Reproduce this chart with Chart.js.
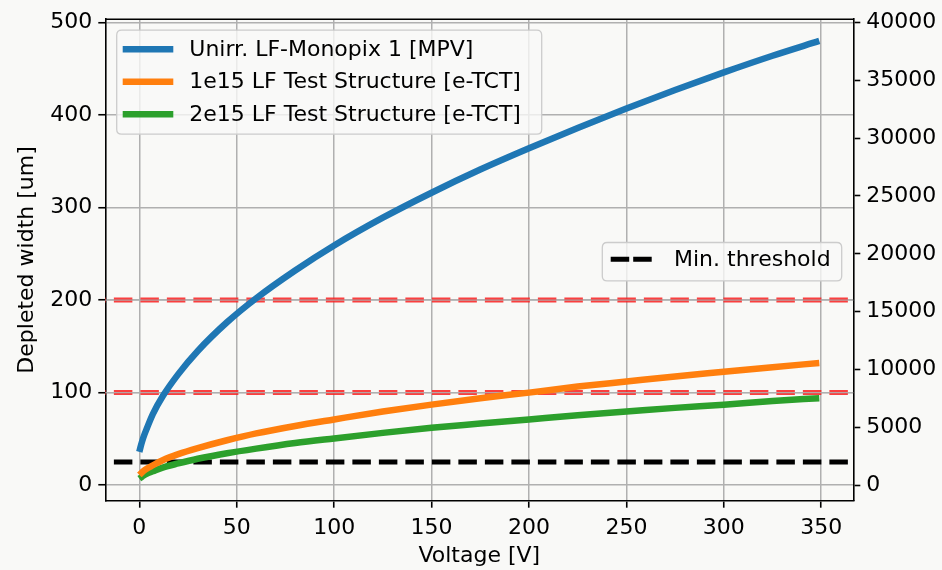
<!DOCTYPE html>
<html><head><meta charset="utf-8">
<script src="https://cdn.jsdelivr.net/npm/chart.js@4/dist/chart.umd.min.js"></script>
<style>html,body{margin:0;padding:0;background:#f9f9f7;} #wrap{width:942px;height:570px;}</style>
</head><body><div id="wrap"><canvas id="c" width="942" height="570"></canvas></div>
<script>
// ---- data ----
const voltages      = [0, 1, 2, 4, 7, 12, 20, 30, 45, 60, 80, 100, 125, 150, 175, 200, 225, 250, 275, 300, 325, 349];
const unirrMonopix  = [36, 44, 51, 62, 77, 96, 120, 145, 176, 202, 232, 259, 289, 316, 341, 364, 386, 407, 427, 446, 464, 480];
const lf1e15        = [11, 13, 15, 18, 21.5, 27, 33.5, 40, 48.5, 56, 64, 71, 79.5, 87, 94, 100, 106.5, 112, 117.5, 122.5, 127.5, 132];
const lf2e15        = [7, 8.5, 10, 12.5, 15, 19, 23.5, 28.5, 34.5, 39.5, 45.5, 50.5, 56.5, 62, 66.5, 71, 75.5, 79.5, 83.5, 87, 91, 94];
const seriesLabels  = ['Unirr. LF-Monopix 1 [MPV]', '1e15 LF Test Structure [e-TCT]', '2e15 LF Test Structure [e-TCT]'];
const thresholdLabel = 'Min. threshold';
const minThreshold  = 25;
const redLevels     = [100, 200];
const xTicks        = [0, 50, 100, 150, 200, 250, 300, 350];
const yTicksLeft    = [0, 100, 200, 300, 400, 500];
const yTicksRight   = [0, 5000, 10000, 15000, 20000, 25000, 30000, 35000, 40000];
const xLimits       = [-17.45, 366.45];
const yLimits       = [-16.8, 503.5];
const rightFactor   = 80;
const xTitle = 'Voltage [V]';
const yTitle = 'Depleted width [um]';

const colors = ['#1f77b4', '#ff7f0e', '#2ca02c'];
const FONT = 'DejaVu Sans';
const FS = 22;
const LW = 6.5;
const pts = arr => voltages.map((v, i) => ({x: v, y: arr[i]}));
const hline = y => [{x: xLimits[0] - 50, y}, {x: xLimits[1] + 50, y}];

const series = [unirrMonopix, lf1e15, lf2e15];
const datasets = series.map((s, i) => ({
  label: seriesLabels[i], data: pts(s), borderColor: colors[i], borderWidth: LW,
  pointRadius: 0, cubicInterpolationMode: 'monotone', fill: false, borderCapStyle: 'butt'
}));
datasets.push({label: thresholdLabel, data: hline(minThreshold), borderColor: '#000', borderWidth: 5,
  borderDash: [18.5, 8], pointRadius: 0, fill: false, borderCapStyle: 'butt'});
redLevels.forEach(l => datasets.push({label: '_g', data: hline(l), borderColor: 'rgba(176,176,176,0.9)', borderWidth: 1.2, pointRadius: 0}));
redLevels.forEach(l => datasets.push({label: '_r', data: hline(l), borderColor: 'rgba(250,30,30,0.85)', borderWidth: 5,
  borderDash: [18.5, 8], pointRadius: 0, borderCapStyle: 'butt'}));

function setTicks(arr) { return scale => { scale.ticks = arr.map(v => ({value: v})); }; }
const plain = v => String(v);

const gridCommon = {color: '#b0b0b0', lineWidth: 1.5, tickColor: '#000', tickLength: 7, tickWidth: 1.6};

function roundRect(ctx, x, y, w, h, r) {
  ctx.beginPath();
  ctx.moveTo(x + r, y); ctx.lineTo(x + w - r, y); ctx.quadraticCurveTo(x + w, y, x + w, y + r);
  ctx.lineTo(x + w, y + h - r); ctx.quadraticCurveTo(x + w, y + h, x + w - r, y + h);
  ctx.lineTo(x + r, y + h); ctx.quadraticCurveTo(x, y + h, x, y + h - r);
  ctx.lineTo(x, y + r); ctx.quadraticCurveTo(x, y, x + r, y); ctx.closePath();
}

const legendPlugin = {
  id: 'mplLegend',
  afterDatasetsDraw(chart) {
    const ctx = chart.ctx, ca = chart.chartArea;
    ctx.save();
    ctx.strokeStyle = '#000'; ctx.lineWidth = 1.6;
    ctx.beginPath(); ctx.moveTo(ca.left, ca.top); ctx.lineTo(ca.right, ca.top); ctx.stroke();
    ctx.font = `${FS}px "${FONT}"`; ctx.textBaseline = 'middle'; ctx.fillStyle = '#000';
    // legend 1
    const bx = ca.left + 11.4, by = ca.top + 11, bw = 425, bh = 104;
    roundRect(ctx, bx, by, bw, bh, 5);
    ctx.fillStyle = 'rgba(249,249,247,0.8)'; ctx.fill();
    ctx.strokeStyle = '#cccccc'; ctx.lineWidth = 1.3; ctx.stroke();
    seriesLabels.forEach((lab, i) => {
      const y = by + 19 + i * 32.5;
      ctx.strokeStyle = colors[i]; ctx.lineWidth = LW; ctx.setLineDash([]);
      ctx.beginPath(); ctx.moveTo(bx + 6, y); ctx.lineTo(bx + 56.6, y); ctx.stroke();
      ctx.fillStyle = '#000'; ctx.fillText(lab, bx + 72.6, y + 1);
    });
    // legend 2
    const cx = ca.left + 497, cy = ca.top + 223.3, cw = 239.4, ch = 38.4;
    roundRect(ctx, cx, cy, cw, ch, 5);
    ctx.fillStyle = 'rgba(249,249,247,0.8)'; ctx.fill();
    ctx.strokeStyle = '#cccccc'; ctx.lineWidth = 1.3; ctx.stroke();
    ctx.strokeStyle = '#000'; ctx.lineWidth = 5; ctx.setLineDash([18.5, 4]);
    ctx.beginPath(); ctx.moveTo(cx + 8.4, cy + 16.7); ctx.lineTo(cx + 49.4, cy + 16.7); ctx.stroke();
    ctx.setLineDash([]);
    ctx.fillStyle = '#000'; ctx.fillText(thresholdLabel, cx + 71.7, cy + 17.7);
    ctx.restore();
  }
};

new Chart(document.getElementById('c'), {
  type: 'line',
  data: {datasets},
  options: {
    responsive: false, animation: false, devicePixelRatio: 1,
    layout: {padding: {top: 15, left: 0, right: 0, bottom: 0}},
    plugins: {legend: {display: false}, tooltip: {enabled: false}},
    scales: {
      x: {type: 'linear', min: xLimits[0], max: xLimits[1],
        afterBuildTicks: setTicks(xTicks),
        afterFit: s => { s.height = 69.3; },
        grid: gridCommon, border: {color: '#000', width: 1.6},
        ticks: {color: '#000', font: {family: FONT, size: FS}, padding: 7, maxRotation: 0, callback: plain},
        title: {display: true, text: xTitle, color: '#000', font: {family: FONT, size: FS}, padding: {top: 0, bottom: 1}}
      },
      y: {type: 'linear', position: 'left', min: yLimits[0], max: yLimits[1],
        afterBuildTicks: setTicks(yTicksLeft),
        afterFit: s => { s.width = 105.3; },
        grid: gridCommon, border: {color: '#000', width: 1.6},
        ticks: {color: '#000', font: {family: FONT, size: FS}, padding: 6, callback: plain},
        title: {display: true, text: yTitle, color: '#000', font: {family: FONT, size: FS}, padding: {top: 14, bottom: 0}}
      },
      y2: {type: 'linear', position: 'right', min: yLimits[0] * rightFactor, max: yLimits[1] * rightFactor,
        afterBuildTicks: setTicks(yTicksRight),
        afterFit: s => { s.width = 88.7; },
        grid: {drawOnChartArea: false, tickColor: '#000', tickLength: 7, tickWidth: 1.6, color: '#000'},
        border: {color: '#000', width: 1.6},
        ticks: {color: '#000', font: {family: FONT, size: FS}, padding: 6, callback: plain}
      }
    }
  },
  plugins: [legendPlugin]
});
</script>
</body></html>
